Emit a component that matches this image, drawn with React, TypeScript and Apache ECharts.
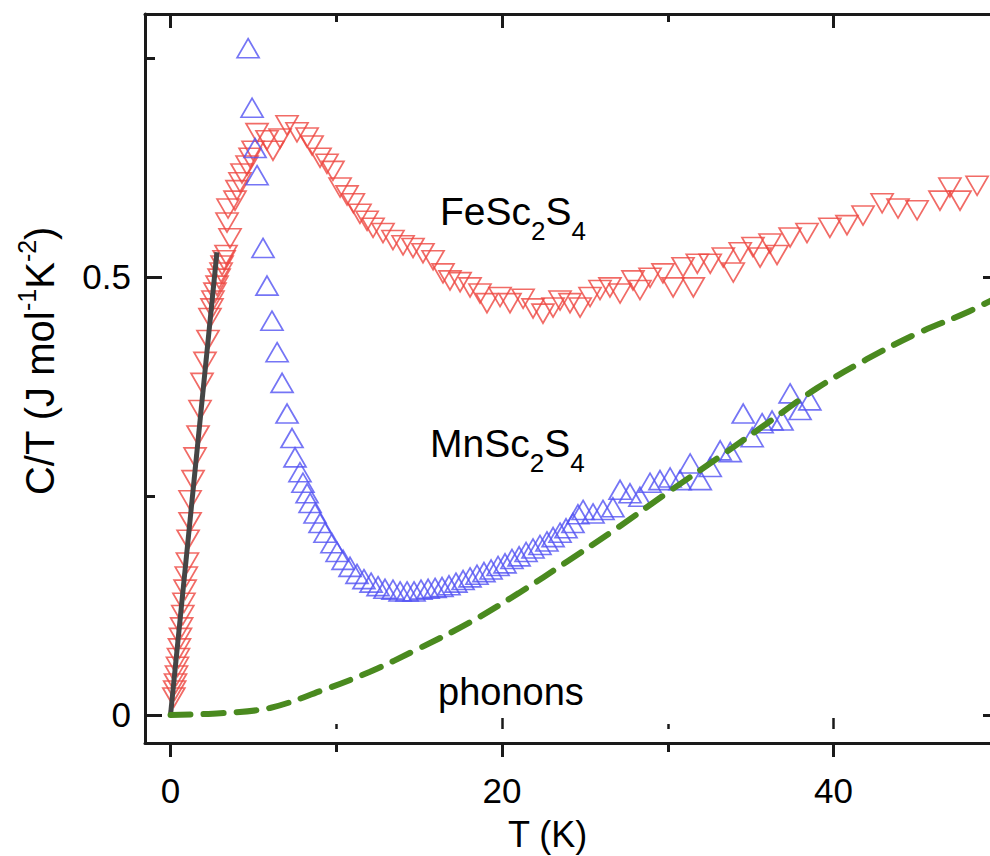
import React, { useEffect, useRef } from "react";
import * as echarts from "echarts";

// ---- data (T in K, C/T in J mol^-1 K^-2) ----
const feT = [0.2, 0.25, 0.3, 0.36, 0.42, 0.48, 0.54, 0.6, 0.67, 0.74, 0.81, 0.88, 0.95, 1.02, 1.06, 1.18, 1.18, 1.36, 1.48, 1.66, 1.78, 1.9, 2.08, 2.26, 2.38, 2.5, 2.56, 2.68, 2.81, 2.93, 3.05, 3.11, 3.23, 3.35, 3.59, 3.41, 3.47, 3.89, 4.01, 4.19, 4.31, 4.62, 4.8, 4.98, 5.22, 5.82, 6.18, 6.61, 7.03, 7.63, 8.24, 8.54, 9.02, 9.44, 9.8, 10.23, 10.65, 11.03, 11.43, 11.86, 12.22, 12.82, 13.42, 14.03, 14.63, 15.23, 15.84, 16.44, 16.86, 17.47, 18.07, 18.67, 19.09, 19.88, 20.48, 21.27, 21.87, 22.47, 23.08, 23.5, 24.1, 24.71, 25.31, 25.91, 26.51, 27.12, 27.9, 28.32, 28.93, 29.71, 30.32, 30.92, 31.54, 31.78, 32.56, 33.35, 33.95, 34.37, 35.14, 35.57, 36.17, 36.59, 37.38, 38.4, 39.78, 40.81, 41.78, 42.93, 43.89, 45.04, 46.42, 47.02, 47.63, 48.66];
const feC = [0.02, 0.028, 0.036, 0.045, 0.055, 0.065, 0.076, 0.088, 0.1, 0.114, 0.128, 0.143, 0.158, 0.174, 0.2, 0.22, 0.245, 0.268, 0.294, 0.319, 0.348, 0.379, 0.403, 0.428, 0.453, 0.464, 0.473, 0.482, 0.49, 0.498, 0.505, 0.513, 0.519, 0.525, 0.544, 0.562, 0.578, 0.587, 0.599, 0.608, 0.618, 0.627, 0.636, 0.644, 0.664, 0.656, 0.644, 0.658, 0.673, 0.665, 0.659, 0.65, 0.636, 0.629, 0.621, 0.602, 0.593, 0.584, 0.572, 0.564, 0.556, 0.55, 0.542, 0.536, 0.533, 0.527, 0.519, 0.504, 0.496, 0.494, 0.488, 0.481, 0.47, 0.477, 0.47, 0.475, 0.464, 0.458, 0.465, 0.473, 0.47, 0.465, 0.477, 0.485, 0.488, 0.481, 0.496, 0.485, 0.499, 0.504, 0.488, 0.511, 0.488, 0.515, 0.515, 0.522, 0.505, 0.528, 0.534, 0.522, 0.538, 0.525, 0.545, 0.55, 0.556, 0.559, 0.57, 0.584, 0.578, 0.576, 0.587, 0.602, 0.587, 0.604];

const mnT = [4.68, 4.92, 5.1, 5.22, 5.58, 5.82, 6.12, 6.43, 6.73, 7.03, 7.33, 7.51, 7.81, 7.99, 8.24, 8.42, 8.72, 9.02, 9.32, 9.74, 10.05, 10.41, 10.83, 11.25, 11.67, 12.1, 12.52, 12.94, 13.42, 13.85, 14.27, 14.69, 15.11, 15.54, 15.96, 16.38, 16.8, 17.22, 17.65, 18.07, 18.49, 18.91, 19.34, 19.76, 20.18, 20.6, 21.03, 21.45, 21.87, 22.29, 22.71, 23.08, 23.5, 23.86, 24.28, 24.58, 24.89, 25.49, 26.09, 26.69, 27.12, 27.72, 28.32, 28.93, 29.53, 30.14, 30.74, 31.35, 31.96, 32.56, 33.16, 33.77, 34.55, 35.09, 35.69, 36.29, 36.89, 37.38, 37.98, 38.57];
const mnC = [0.761, 0.693, 0.647, 0.616, 0.533, 0.49, 0.45, 0.414, 0.379, 0.344, 0.316, 0.294, 0.277, 0.265, 0.253, 0.242, 0.23, 0.219, 0.208, 0.196, 0.186, 0.177, 0.169, 0.161, 0.155, 0.151, 0.147, 0.144, 0.143, 0.141, 0.141, 0.141, 0.143, 0.144, 0.145, 0.146, 0.148, 0.151, 0.154, 0.157, 0.16, 0.163, 0.166, 0.17, 0.173, 0.178, 0.181, 0.186, 0.19, 0.194, 0.198, 0.203, 0.208, 0.213, 0.219, 0.229, 0.234, 0.23, 0.234, 0.237, 0.257, 0.253, 0.249, 0.265, 0.268, 0.271, 0.268, 0.287, 0.268, 0.283, 0.302, 0.3, 0.344, 0.317, 0.333, 0.336, 0.336, 0.367, 0.348, 0.359];

const fitT = [0, 2.8];
const fitC = [0, 0.528];

const phononT = [0, 3, 6, 9, 12, 15, 18, 21, 24, 27, 30, 33, 36, 39, 42, 45, 48, 49.6];
const phononC = [0, 0.002, 0.008, 0.027, 0.049, 0.076, 0.105, 0.139, 0.176, 0.214, 0.254, 0.293, 0.333, 0.373, 0.406, 0.435, 0.459, 0.474];

const xMajorTicks = [0, 20, 40];
const xMinorTicks = [10, 30];
const yMajorTicks = [0, 0.5];
const yMinorTicks = [0.25, 0.75];

const X_MIN = -1.54;
const X_MAX = 49.62;
const Y_MIN = -0.032;
const Y_MAX = 0.8;

const FONT = "'Liberation Sans', Arial, Helvetica, sans-serif";
const AX = "#1a1a1a";

const zip = (a: number[], b: number[]) => a.map((v, i) => [v, b[i]]);

function xAxisBase(extra: any) {
  return {
    type: "value",
    min: X_MIN,
    max: X_MAX,
    splitLine: { show: false },
    axisLabel: { show: false },
    axisLine: { show: false, onZero: false },
    ...extra,
  };
}
function yAxisBase(extra: any) {
  return {
    type: "value",
    min: Y_MIN,
    max: Y_MAX,
    splitLine: { show: false },
    axisLabel: { show: false },
    axisLine: { show: false, onZero: false },
    ...extra,
  };
}

export default function App() {
  const ref = useRef<HTMLDivElement>(null);
  useEffect(() => {
    if (!ref.current) return;
    const chart = echarts.init(ref.current, null, { renderer: "svg" });
    const lineStyleAx = { color: AX, width: 3 };
    const option: any = {
      animation: false,
      backgroundColor: "#ffffff",
      grid: { left: 145, top: 14, width: 848, height: 729 },
      xAxis: [
        xAxisBase({
          position: "bottom",
          axisLine: { show: true, onZero: false, lineStyle: lineStyleAx },
          axisTick: { show: true, inside: false, length: 14, customValues: xMajorTicks, lineStyle: lineStyleAx },
          axisLabel: { show: true, customValues: xMajorTicks, fontSize: 35, fontFamily: FONT, color: "#000", margin: 30 },
        }),
        xAxisBase({
          position: "bottom",
          axisTick: { show: true, inside: false, length: 9, customValues: xMinorTicks, lineStyle: lineStyleAx },
        }),
        xAxisBase({
          position: "top",
          axisLine: { show: true, onZero: false, lineStyle: lineStyleAx },
          axisTick: { show: true, inside: true, length: 14, customValues: xMajorTicks, lineStyle: lineStyleAx },
        }),
        xAxisBase({
          position: "top",
          axisTick: { show: true, inside: true, length: 8, customValues: xMinorTicks, lineStyle: lineStyleAx },
        }),
        xAxisBase({
          position: "bottom",
          offset: -14,
          axisTick: { show: true, inside: true, length: 11, customValues: [20, 40], lineStyle: { color: AX, width: 2.5 } },
        }),
        xAxisBase({
          position: "bottom",
          offset: -14,
          axisTick: { show: true, inside: true, length: 5, customValues: xMinorTicks, lineStyle: { color: AX, width: 2.5 } },
        }),
      ],
      yAxis: [
        yAxisBase({
          position: "left",
          axisLine: { show: true, onZero: false, lineStyle: lineStyleAx },
          axisTick: { show: true, inside: true, length: 17, customValues: yMajorTicks, lineStyle: lineStyleAx },
          axisLabel: {
            show: true,
            customValues: yMajorTicks,
            fontSize: 35,
            fontFamily: FONT,
            color: "#000",
            margin: 14,
            formatter: (v: number) => String(v),
          },
        }),
        yAxisBase({
          position: "left",
          axisTick: { show: true, inside: true, length: 10, customValues: yMinorTicks, lineStyle: lineStyleAx },
        }),
        yAxisBase({
          position: "right",
          axisLine: { show: true, onZero: false, lineStyle: lineStyleAx },
          axisTick: { show: true, inside: true, length: 10, customValues: yMajorTicks, lineStyle: lineStyleAx },
        }),
      ],
      series: [
        {
          name: "FeSc2S4",
          type: "scatter",
          data: zip(feT, feC),
          symbol: "triangle",
          symbolRotate: 180,
          symbolSize: [22, 19],
          itemStyle: { color: "rgba(255,255,255,0)", borderColor: "#ee4640", borderWidth: 1.7 },
          z: 2,
        },
        {
          name: "MnSc2S4",
          type: "scatter",
          data: zip(mnT, mnC),
          symbol: "triangle",
          symbolSize: [22, 19],
          itemStyle: { color: "rgba(255,255,255,0)", borderColor: "#5252f2", borderWidth: 1.7 },
          z: 3,
        },
        {
          name: "fit",
          type: "line",
          data: zip(fitT, fitC),
          showSymbol: false,
          symbol: "none",
          lineStyle: { color: "#454545", width: 5 },
          z: 4,
        },
        {
          name: "phonons",
          type: "line",
          data: zip(phononT, phononC),
          smooth: 0.35,
          showSymbol: false,
          symbol: "none",
          lineStyle: { color: "#4a8a1f", width: 6, type: [20, 13], cap: "round" },
          z: 5,
        },
      ],
      graphic: [
        {
          type: "text",
          x: 440,
          y: 211,
          style: {
            text: "{m|FeSc}{s|2}{m|S}{s|4}",
            align: "left",
            verticalAlign: "middle",
            fill: "#000",
            rich: {
              m: { fontSize: 39, fontFamily: FONT, fill: "#000" },
              s: { fontSize: 26, fontFamily: FONT, fill: "#000", padding: [40, 0, 0, 0] },
            },
          },
        },
        {
          type: "text",
          x: 430,
          y: 443,
          style: {
            text: "{m|MnSc}{s|2}{m|S}{s|4}",
            align: "left",
            verticalAlign: "middle",
            fill: "#000",
            rich: {
              m: { fontSize: 39, fontFamily: FONT, fill: "#000" },
              s: { fontSize: 26, fontFamily: FONT, fill: "#000", padding: [40, 0, 0, 0] },
            },
          },
        },
        {
          type: "text",
          x: 438,
          y: 692,
          style: { text: "phonons", fontSize: 38, fontFamily: FONT, fill: "#000", align: "left", verticalAlign: "middle" },
        },
        {
          type: "text",
          x: 508,
          y: 834,
          style: { text: "T (K)", fontSize: 36, fontFamily: FONT, fill: "#000", align: "left", verticalAlign: "middle" },
        },
        {
          type: "text",
          x: 40,
          y: 361,
          rotation: Math.PI / 2,
          style: {
            text: "{m|C/T (J mol}{s|-1}{m|K}{s|-2}{m|)}",
            align: "center",
            verticalAlign: "middle",
            fill: "#000",
            rich: {
              m: { fontSize: 40, fontFamily: FONT, fill: "#000" },
              s: { fontSize: 25, fontFamily: FONT, fill: "#000", padding: [0, 0, 26, 0] },
            },
          },
        },
      ],
    };
    chart.setOption(option);
    return () => chart.dispose();
  }, []);
  return (
    <div style={{ position: "fixed", left: 0, top: 0, width: 990, height: 856, overflow: "hidden", background: "#fff" }}>
      <div ref={ref} style={{ width: 1000, height: 856 }} />
    </div>
  );
}
